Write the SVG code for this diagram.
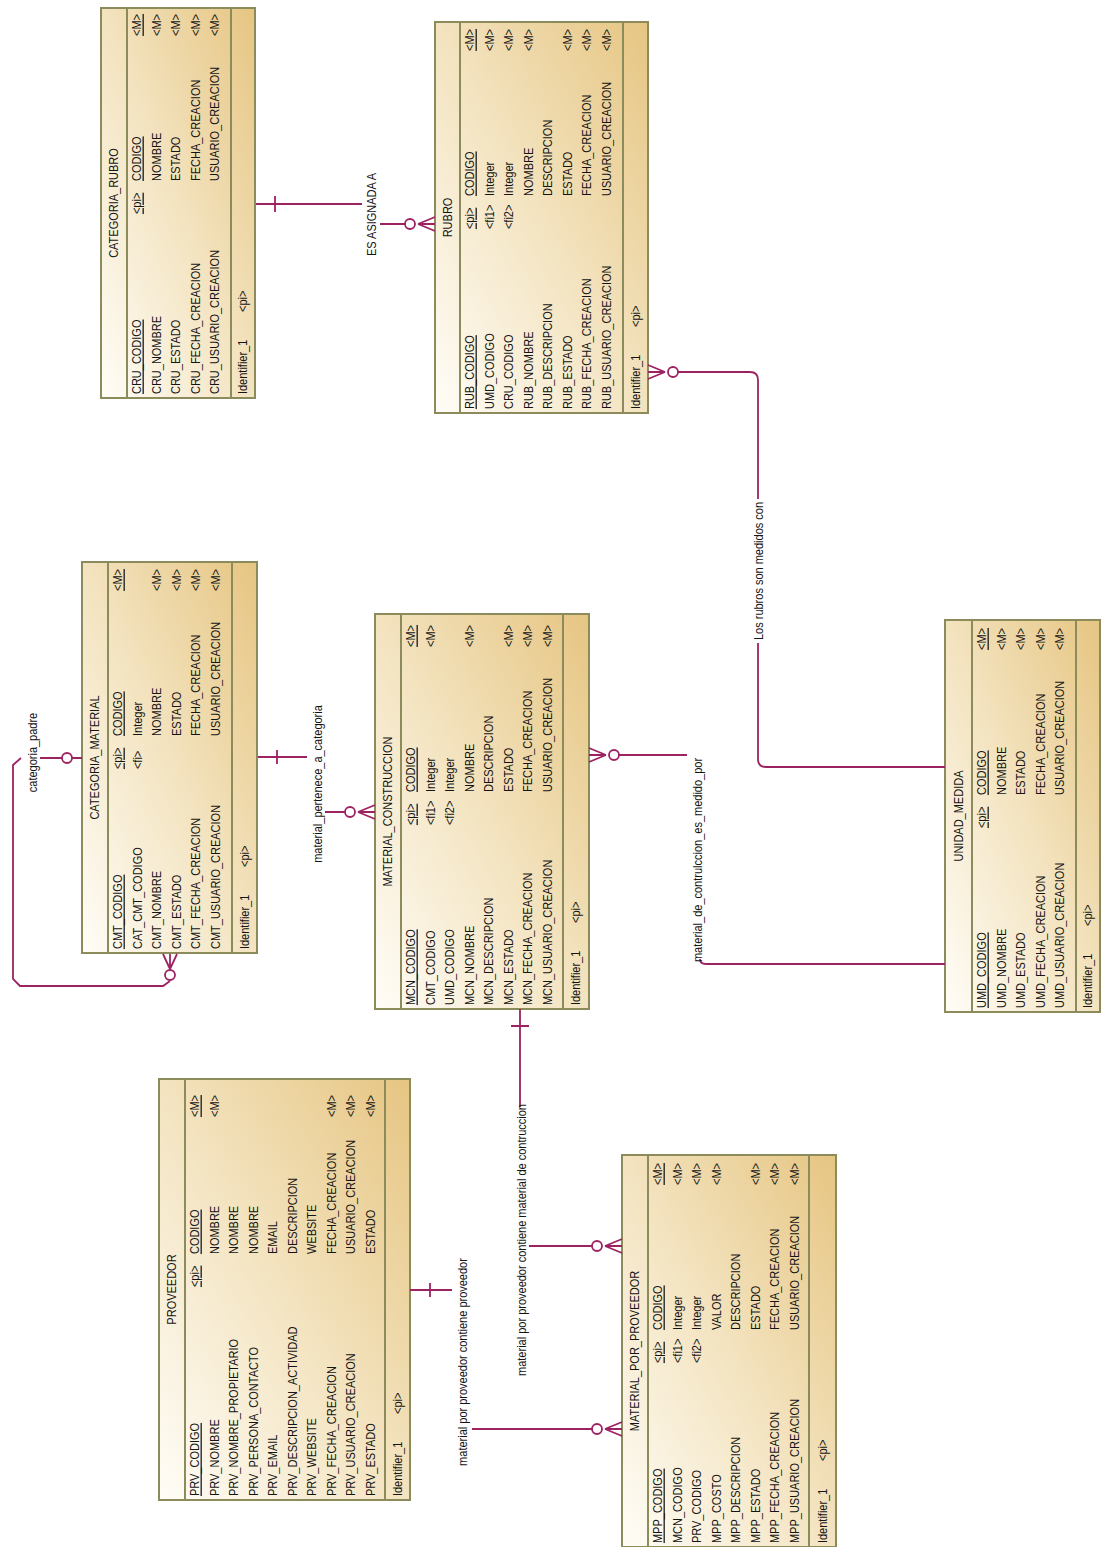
<svg xmlns="http://www.w3.org/2000/svg" width="1102" height="1547" viewBox="0 0 1102 1547">
<defs>
<linearGradient id="g" x1="0" y1="0" x2="1" y2="1">
<stop offset="0" stop-color="#fffdf7"/>
<stop offset="0.5" stop-color="#f3e3bf"/>
<stop offset="1" stop-color="#e6c582"/>
</linearGradient>
<style>
.b{fill:url(#g);stroke:#8c8b5b;stroke-width:2}
.d{stroke:#8c8b5b;stroke-width:2}
text{font-family:"Liberation Sans",Arial,sans-serif;font-size:12.5px;fill:#141414}
.u{text-decoration:underline}
.m{text-anchor:middle}
.c{fill:none;stroke:#9c2262;stroke-width:1.8}
.o{fill:#fff;stroke:#9c2262;stroke-width:1.8}
</style>
</defs>
<rect width="1102" height="1547" fill="#fff"/>

<g id="categoria_rubro" transform="translate(101,398) rotate(-90)">
<rect class="b" x="0" y="0" width="390" height="154"/>
<line class="d" x1="0" y1="26" x2="390" y2="26"/>
<line class="d" x1="0" y1="130" x2="390" y2="130"/>
<g transform="scale(0.88,1)">
<text class="m" x="221.6" y="17.5">CATEGORIA_RUBRO</text>
<text class="u" x="4.5" y="40.5">CRU_CODIGO</text><text class="u" x="209" y="40.5">&lt;pi&gt;</text><text class="u" x="246.6" y="40.5">CODIGO</text><text class="u" x="411.4" y="40.5">&lt;M&gt;</text>
<text x="4.5" y="60">CRU_NOMBRE</text><text x="246.6" y="60">NOMBRE</text><text x="411.4" y="60">&lt;M&gt;</text>
<text x="4.5" y="79.5">CRU_ESTADO</text><text x="246.6" y="79.5">ESTADO</text><text x="411.4" y="79.5">&lt;M&gt;</text>
<text x="4.5" y="99">CRU_FECHA_CREACION</text><text x="246.6" y="99">FECHA_CREACION</text><text x="411.4" y="99">&lt;M&gt;</text>
<text x="4.5" y="118.5">CRU_USUARIO_CREACION</text><text x="246.6" y="118.5">USUARIO_CREACION</text><text x="411.4" y="118.5">&lt;M&gt;</text>
<text x="4.5" y="146.5">Identifier_1</text><text x="97.7" y="146.5">&lt;pi&gt;</text>
</g>
</g>

<g id="rubro" transform="translate(435,413) rotate(-90)">
<rect class="b" x="0" y="0" width="391" height="213"/>
<line class="d" x1="0" y1="25" x2="391" y2="25"/>
<line class="d" x1="0" y1="188" x2="391" y2="188"/>
<g transform="scale(0.88,1)">
<text class="m" x="222.2" y="17">RUBRO</text>
<text class="u" x="4.5" y="39.5">RUB_CODIGO</text><text class="u" x="209" y="39.5">&lt;pi&gt;</text><text class="u" x="246.6" y="39.5">CODIGO</text><text class="u" x="411.4" y="39.5">&lt;M&gt;</text>
<text x="4.5" y="59">UMD_CODIGO</text><text x="209" y="59">&lt;fi1&gt;</text><text x="246.6" y="59">Integer</text><text x="411.4" y="59">&lt;M&gt;</text>
<text x="4.5" y="78.5">CRU_CODIGO</text><text x="209" y="78.5">&lt;fi2&gt;</text><text x="246.6" y="78.5">Integer</text><text x="411.4" y="78.5">&lt;M&gt;</text>
<text x="4.5" y="98">RUB_NOMBRE</text><text x="246.6" y="98">NOMBRE</text><text x="411.4" y="98">&lt;M&gt;</text>
<text x="4.5" y="117.5">RUB_DESCRIPCION</text><text x="246.6" y="117.5">DESCRIPCION</text>
<text x="4.5" y="137">RUB_ESTADO</text><text x="246.6" y="137">ESTADO</text><text x="411.4" y="137">&lt;M&gt;</text>
<text x="4.5" y="156.5">RUB_FECHA_CREACION</text><text x="246.6" y="156.5">FECHA_CREACION</text><text x="411.4" y="156.5">&lt;M&gt;</text>
<text x="4.5" y="176">RUB_USUARIO_CREACION</text><text x="246.6" y="176">USUARIO_CREACION</text><text x="411.4" y="176">&lt;M&gt;</text>
<text x="4.5" y="205">Identifier_1</text><text x="97.7" y="205">&lt;pi&gt;</text>
</g>
</g>

<g id="categoria_material" transform="translate(82,953) rotate(-90)">
<rect class="b" x="0" y="0" width="391" height="175"/>
<line class="d" x1="0" y1="26" x2="391" y2="26"/>
<line class="d" x1="0" y1="150" x2="391" y2="150"/>
<g transform="scale(0.88,1)">
<text class="m" x="222.2" y="17.5">CATEGORIA_MATERIAL</text>
<text class="u" x="4.5" y="40.5">CMT_CODIGO</text><text class="u" x="209" y="40.5">&lt;pi&gt;</text><text class="u" x="246.6" y="40.5">CODIGO</text><text class="u" x="411.4" y="40.5">&lt;M&gt;</text>
<text x="4.5" y="60">CAT_CMT_CODIGO</text><text x="209" y="60">&lt;fi&gt;</text><text x="246.6" y="60">Integer</text>
<text x="4.5" y="79.5">CMT_NOMBRE</text><text x="246.6" y="79.5">NOMBRE</text><text x="411.4" y="79.5">&lt;M&gt;</text>
<text x="4.5" y="99">CMT_ESTADO</text><text x="246.6" y="99">ESTADO</text><text x="411.4" y="99">&lt;M&gt;</text>
<text x="4.5" y="118.5">CMT_FECHA_CREACION</text><text x="246.6" y="118.5">FECHA_CREACION</text><text x="411.4" y="118.5">&lt;M&gt;</text>
<text x="4.5" y="138">CMT_USUARIO_CREACION</text><text x="246.6" y="138">USUARIO_CREACION</text><text x="411.4" y="138">&lt;M&gt;</text>
<text x="4.5" y="167">Identifier_1</text><text x="97.7" y="167">&lt;pi&gt;</text>
</g>
</g>

<g id="material_construccion" transform="translate(375,1009) rotate(-90)">
<rect class="b" x="0" y="0" width="395" height="214"/>
<line class="d" x1="0" y1="26" x2="395" y2="26"/>
<line class="d" x1="0" y1="188" x2="395" y2="188"/>
<g transform="scale(0.88,1)">
<text class="m" x="224.4" y="17.5">MATERIAL_CONSTRUCCION</text>
<text class="u" x="4.5" y="40.5">MCN_CODIGO</text><text class="u" x="209" y="40.5">&lt;pi&gt;</text><text class="u" x="246.6" y="40.5">CODIGO</text><text class="u" x="411.4" y="40.5">&lt;M&gt;</text>
<text x="4.5" y="60">CMT_CODIGO</text><text x="209" y="60">&lt;fi1&gt;</text><text x="246.6" y="60">Integer</text><text x="411.4" y="60">&lt;M&gt;</text>
<text x="4.5" y="79.5">UMD_CODIGO</text><text x="209" y="79.5">&lt;fi2&gt;</text><text x="246.6" y="79.5">Integer</text>
<text x="4.5" y="99">MCN_NOMBRE</text><text x="246.6" y="99">NOMBRE</text><text x="411.4" y="99">&lt;M&gt;</text>
<text x="4.5" y="118.5">MCN_DESCRIPCION</text><text x="246.6" y="118.5">DESCRIPCION</text>
<text x="4.5" y="138">MCN_ESTADO</text><text x="246.6" y="138">ESTADO</text><text x="411.4" y="138">&lt;M&gt;</text>
<text x="4.5" y="157.5">MCN_FECHA_CREACION</text><text x="246.6" y="157.5">FECHA_CREACION</text><text x="411.4" y="157.5">&lt;M&gt;</text>
<text x="4.5" y="177">MCN_USUARIO_CREACION</text><text x="246.6" y="177">USUARIO_CREACION</text><text x="411.4" y="177">&lt;M&gt;</text>
<text x="4.5" y="205.5">Identifier_1</text><text x="97.7" y="205.5">&lt;pi&gt;</text>
</g>
</g>

<g id="unidad_medida" transform="translate(945,1012) rotate(-90)">
<rect class="b" x="0" y="0" width="392" height="155"/>
<line class="d" x1="0" y1="27" x2="392" y2="27"/>
<line class="d" x1="0" y1="131" x2="392" y2="131"/>
<g transform="scale(0.88,1)">
<text class="m" x="222.7" y="18">UNIDAD_MEDIDA</text>
<text class="u" x="4.5" y="41.5">UMD_CODIGO</text><text class="u" x="209" y="41.5">&lt;pi&gt;</text><text class="u" x="246.6" y="41.5">CODIGO</text><text class="u" x="411.4" y="41.5">&lt;M&gt;</text>
<text x="4.5" y="61">UMD_NOMBRE</text><text x="246.6" y="61">NOMBRE</text><text x="411.4" y="61">&lt;M&gt;</text>
<text x="4.5" y="80.5">UMD_ESTADO</text><text x="246.6" y="80.5">ESTADO</text><text x="411.4" y="80.5">&lt;M&gt;</text>
<text x="4.5" y="100">UMD_FECHA_CREACION</text><text x="246.6" y="100">FECHA_CREACION</text><text x="411.4" y="100">&lt;M&gt;</text>
<text x="4.5" y="119.5">UMD_USUARIO_CREACION</text><text x="246.6" y="119.5">USUARIO_CREACION</text><text x="411.4" y="119.5">&lt;M&gt;</text>
<text x="4.5" y="147.5">Identifier_1</text><text x="97.7" y="147.5">&lt;pi&gt;</text>
</g>
</g>

<g id="proveedor" transform="translate(159,1500) rotate(-90)">
<rect class="b" x="0" y="0" width="421" height="251"/>
<line class="d" x1="0" y1="26" x2="421" y2="26"/>
<line class="d" x1="0" y1="226" x2="421" y2="226"/>
<g transform="scale(0.88,1)">
<text class="m" x="239.2" y="17.5">PROVEEDOR</text>
<text class="u" x="4.5" y="40.5">PRV_CODIGO</text><text class="u" x="242" y="40.5">&lt;pi&gt;</text><text class="u" x="279.5" y="40.5">CODIGO</text><text class="u" x="435.2" y="40.5">&lt;M&gt;</text>
<text x="4.5" y="60">PRV_NOMBRE</text><text x="279.5" y="60">NOMBRE</text><text x="435.2" y="60">&lt;M&gt;</text>
<text x="4.5" y="79.5">PRV_NOMBRE_PROPIETARIO</text><text x="279.5" y="79.5">NOMBRE</text>
<text x="4.5" y="99">PRV_PERSONA_CONTACTO</text><text x="279.5" y="99">NOMBRE</text>
<text x="4.5" y="118.5">PRV_EMAIL</text><text x="279.5" y="118.5">EMAIL</text>
<text x="4.5" y="138">PRV_DESCRIPCION_ACTIVIDAD</text><text x="279.5" y="138">DESCRIPCION</text>
<text x="4.5" y="157.5">PRV_WEBSITE</text><text x="279.5" y="157.5">WEBSITE</text>
<text x="4.5" y="177">PRV_FECHA_CREACION</text><text x="279.5" y="177">FECHA_CREACION</text><text x="435.2" y="177">&lt;M&gt;</text>
<text x="4.5" y="196.5">PRV_USUARIO_CREACION</text><text x="279.5" y="196.5">USUARIO_CREACION</text><text x="435.2" y="196.5">&lt;M&gt;</text>
<text x="4.5" y="216">PRV_ESTADO</text><text x="279.5" y="216">ESTADO</text><text x="435.2" y="216">&lt;M&gt;</text>
<text x="4.5" y="243">Identifier_1</text><text x="97.7" y="243">&lt;pi&gt;</text>
</g>
</g>

<g id="material_por_proveedor" transform="translate(622,1547) rotate(-90)">
<rect class="b" x="0" y="0" width="392" height="214"/>
<line class="d" x1="0" y1="26" x2="392" y2="26"/>
<line class="d" x1="0" y1="187" x2="392" y2="187"/>
<g transform="scale(0.88,1)">
<text class="m" x="222.7" y="17.5">MATERIAL_POR_PROVEEDOR</text>
<text class="u" x="4.5" y="40.5">MPP_CODIGO</text><text class="u" x="209" y="40.5">&lt;pi&gt;</text><text class="u" x="246.6" y="40.5">CODIGO</text><text class="u" x="411.4" y="40.5">&lt;M&gt;</text>
<text x="4.5" y="60">MCN_CODIGO</text><text x="209" y="60">&lt;fi1&gt;</text><text x="246.6" y="60">Integer</text><text x="411.4" y="60">&lt;M&gt;</text>
<text x="4.5" y="79.5">PRV_CODIGO</text><text x="209" y="79.5">&lt;fi2&gt;</text><text x="246.6" y="79.5">Integer</text><text x="411.4" y="79.5">&lt;M&gt;</text>
<text x="4.5" y="99">MPP_COSTO</text><text x="246.6" y="99">VALOR</text><text x="411.4" y="99">&lt;M&gt;</text>
<text x="4.5" y="118.5">MPP_DESCRIPCION</text><text x="246.6" y="118.5">DESCRIPCION</text>
<text x="4.5" y="138">MPP_ESTADO</text><text x="246.6" y="138">ESTADO</text><text x="411.4" y="138">&lt;M&gt;</text>
<text x="4.5" y="157.5">MPP_FECHA_CREACION</text><text x="246.6" y="157.5">FECHA_CREACION</text><text x="411.4" y="157.5">&lt;M&gt;</text>
<text x="4.5" y="177">MPP_USUARIO_CREACION</text><text x="246.6" y="177">USUARIO_CREACION</text><text x="411.4" y="177">&lt;M&gt;</text>
<text x="4.5" y="205">Identifier_1</text><text x="97.7" y="205">&lt;pi&gt;</text>
</g>
</g>

<g id="connectors">
<path class="c" d="M256,204 H362 M275,196 V212 M380,224 H405 M418,224 L435,217 M418,224 H435 M418,224 L435,231"/>
<circle class="o" cx="410" cy="224" r="5"/>
<text class="m" transform="translate(371,214.5) rotate(-90) scale(0.88,1)" y="4.5">ES ASIGNADA A</text>

<path class="c" d="M648,365 L665,372 M648,372 H665 M648,379 L665,372 M678,372 H750 Q758,372 758,380 V499 M758,643 V759 Q758,767 766,767 H945"/>
<circle class="o" cx="673" cy="372" r="5"/>
<text class="m" transform="translate(758,571) rotate(-90) scale(0.88,1)" y="4.5">Los rubros son medidos con</text>

<path class="c" d="M589,748 L606,755 M589,755 H606 M589,762 L606,755 M619,755 H687 M700,959 Q700,964 706,964 H945"/>
<circle class="o" cx="614" cy="755" r="5"/>
<text class="m" transform="translate(697,860) rotate(-90) scale(0.88,1)" y="4.5">material_de_contrulccion_es_medido_por</text>

<path class="c" d="M258,757 H307 M277,750 V764 M325,812 H345 M358,812 L375,805 M358,812 H375 M358,812 L375,819"/>
<circle class="o" cx="350" cy="812" r="5"/>
<text class="m" transform="translate(317,784) rotate(-90) scale(0.88,1)" y="4.5">material_pertenece_a_categoria</text>

<path class="c" d="M82,758 H72 M62,758 H40 M21,758 L13,765 V979 L20,986 H163 L170,981 M170,969 L163,954 M170,969 V954 M170,969 L177,954"/>
<circle class="o" cx="67" cy="758" r="5"/>
<circle class="o" cx="170" cy="975" r="5"/>
<text class="m" transform="translate(32,752.5) rotate(-90) scale(0.88,1)" y="4.5">categoria_padre</text>

<path class="c" d="M520,1009 V1107 M511,1026 H529 M529,1246 H592 M605,1246 L622,1239 M605,1246 H622 M605,1246 L622,1253"/>
<circle class="o" cx="597" cy="1246" r="5"/>
<text class="m" transform="translate(521,1240) rotate(-90) scale(0.88,1)" y="4.5">material por proveedor contiene material de contruccion</text>

<path class="c" d="M410,1290 H452 M430,1283 V1297 M472,1429 H592 M605,1429 L622,1422 M605,1429 H622 M605,1429 L622,1436"/>
<circle class="o" cx="597" cy="1429" r="5"/>
<text class="m" transform="translate(462,1362) rotate(-90) scale(0.88,1)" y="4.5">material por proveedor contiene proveedor</text>
</g>
</svg>
